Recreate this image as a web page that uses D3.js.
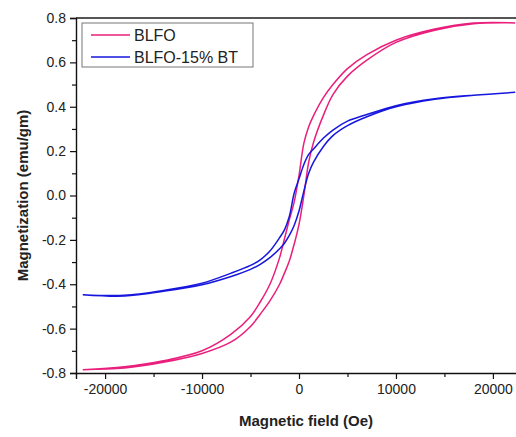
<!DOCTYPE html>
<html>
<head>
<meta charset="utf-8">
<script src="https://cdn.jsdelivr.net/npm/d3@7"></script>
<style>
  body { margin: 0; background: #fff; }
  svg { display: block; font-family: Arial, "Liberation Sans", sans-serif; }
</style>
</head>
<body>
<svg id="chart" width="516" height="437"></svg>
<script>
// M-H loops: field in Oe, magnetization in emu/gm
const fieldDown = [22300, 18000, 14000, 10000, 7000, 5000, 3500, 2500, 1500, 1000, 500, 0,
  -500, -1000, -1500, -2000, -3000, -4000, -5000, -7000, -10000, -14000, -18000, -22300];
const fieldUp = [-22300, -18000, -14000, -10000, -7000, -5000, -4000, -3000, -2000, -1500, -1000, -500,
  0, 500, 1000, 1500, 2500, 3500, 5000, 7000, 10000, 14000, 18000, 22300];

const blfoDown = [0.778, 0.777, 0.75, 0.70, 0.635, 0.572, 0.50, 0.44, 0.36, 0.31, 0.235, 0.09,
  -0.03, -0.11, -0.195, -0.28, -0.40, -0.48, -0.545, -0.625, -0.70, -0.745, -0.772, -0.785];
const blfoUp = [-0.785, -0.778, -0.752, -0.712, -0.66, -0.59, -0.535, -0.475, -0.40, -0.35, -0.295, -0.22,
  -0.13, 0.0, 0.15, 0.24, 0.36, 0.455, 0.538, 0.61, 0.69, 0.745, 0.774, 0.778];

const btDown = [0.465, 0.452, 0.436, 0.405, 0.365, 0.335, 0.295, 0.258, 0.21, 0.185, 0.14, 0.075,
  0.01, -0.095, -0.155, -0.19, -0.25, -0.29, -0.315, -0.35, -0.395, -0.428, -0.45, -0.447];
const btUp = [-0.447, -0.453, -0.432, -0.402, -0.365, -0.333, -0.31, -0.28, -0.24, -0.215, -0.18, -0.135,
  -0.07, 0.02, 0.10, 0.15, 0.22, 0.27, 0.315, 0.355, 0.40, 0.434, 0.452, 0.465];

const seriesNames = ["BLFO", "BLFO-15% BT"];
const seriesColors = ["#ea1e7c", "#1616de"];

const xTicks = [-20000, -10000, 0, 10000, 20000];
const xMinorTicks = [-15000, -5000, 5000, 15000];
const yTicks = [-0.8, -0.6, -0.4, -0.2, 0.0, 0.2, 0.4, 0.6, 0.8];
const yMinorTicks = [-0.7, -0.5, -0.3, -0.1, 0.1, 0.3, 0.5, 0.7];

const svg = d3.select("#chart");
const margin = {top: 18, left: 76, bottom: 64};
const height = 437 - margin.top - margin.bottom;
// the plot runs past the right edge of the picture, like the original
const width = 446;

const x = d3.scaleLinear().domain([-23000, 23000]).range([0, width]);
const y = d3.scaleLinear().domain([-0.8, 0.8]).range([height, 0]);

const g = svg.append("g").attr("transform", "translate(" + margin.left + "," + margin.top + ")");

// loops: descending branch then ascending branch
const loops = [
  fieldDown.map((h, i) => [h, blfoDown[i]]).concat(fieldUp.map((h, i) => [h, blfoUp[i]])),
  fieldDown.map((h, i) => [h, btDown[i]]).concat(fieldUp.map((h, i) => [h, btUp[i]]))
];

const line = d3.line()
  .x(d => x(d[0]))
  .y(d => y(d[1]))
  .curve(d3.curveCatmullRom.alpha(0.5));

g.selectAll(".loop")
  .data(loops)
  .enter()
  .append("path")
  .attr("d", line)
  .style("fill", "none")
  .style("stroke", (d, i) => seriesColors[i])
  .style("stroke-width", 1.5);

// top frame line
g.append("line")
  .attr("x1", 0).attr("x2", width)
  .attr("y1", 0).attr("y2", 0)
  .style("stroke", "#555").style("stroke-width", 2);

// bottom axis (plain hyphen for minus, as in the original)
g.append("g")
  .attr("transform", "translate(0," + height + ")")
  .call(d3.axisBottom(x).tickValues(xTicks).tickSize(6).tickPadding(5).tickFormat(d => String(d)));
g.append("g")
  .attr("transform", "translate(0," + height + ")")
  .call(d3.axisBottom(x).tickValues(xMinorTicks).tickSize(4).tickFormat(""))
  .select(".domain").remove();

// left axis
g.append("g")
  .call(d3.axisLeft(y).tickValues(yTicks).tickSize(6).tickPadding(4).tickFormat(d => d.toFixed(1)));
g.append("g")
  .call(d3.axisLeft(y).tickValues(yMinorTicks).tickSize(4).tickFormat(""))
  .select(".domain").remove();

g.selectAll(".domain").style("stroke", "#111").style("stroke-width", 1.4);
g.selectAll(".tick line").style("stroke", "#111").style("stroke-width", 1.2);
g.selectAll(".tick text").style("font-size", "14px").style("fill", "#222")
  .style("font-family", "Arial, 'Liberation Sans', sans-serif");

// axis titles
svg.append("text")
  .attr("x", 306).attr("y", 426)
  .attr("text-anchor", "middle")
  .style("font-size", "15px").style("font-weight", "bold").style("fill", "#222")
  .text("Magnetic field (Oe)");

svg.append("text")
  .attr("transform", "translate(28," + (margin.top + height / 2) + ") rotate(-90)")
  .attr("text-anchor", "middle")
  .style("font-size", "15px").style("font-weight", "bold").style("fill", "#222")
  .text("Magnetization (emu/gm)");

// legend
const legend = svg.append("g").attr("transform", "translate(82,23)");
legend.append("rect")
  .attr("width", 171).attr("height", 44)
  .style("fill", "#fff").style("stroke", "#777").style("stroke-width", 1);

const item = legend.selectAll(".item")
  .data(seriesNames)
  .enter()
  .append("g")
  .attr("transform", (d, i) => "translate(0," + (12 + i * 22) + ")");
item.append("line")
  .attr("x1", 9).attr("x2", 48)
  .style("stroke", (d, i) => seriesColors[i]).style("stroke-width", 1.5);
item.append("text")
  .attr("x", 52).attr("dy", "0.36em")
  .style("font-size", "16px").style("fill", "#222")
  .text(d => d);
</script>
</body>
</html>
